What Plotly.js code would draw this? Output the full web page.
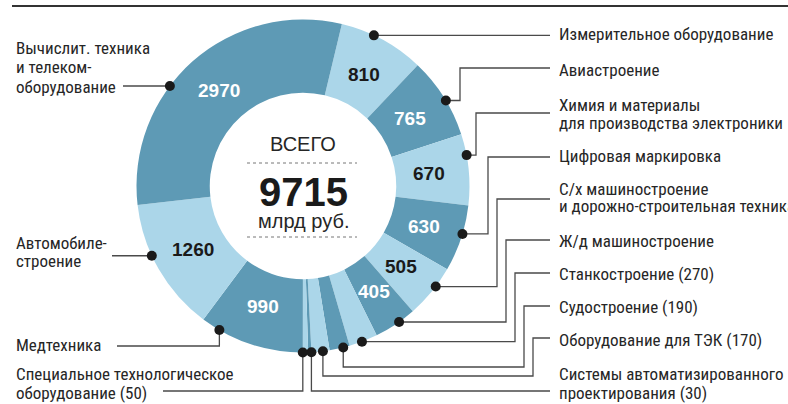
<!DOCTYPE html>
<html><head><meta charset="utf-8">
<script src="https://cdn.plot.ly/plotly-3.0.1.min.js"></script>
<style>html,body{margin:0;padding:0;background:#fff}#chart{width:788px;height:404px}</style>
</head><body><div id="chart"></div>
<script>
// ---- data ----
const categories = ['Измерительное оборудование','Авиастроение','Химия и материалы для производства электроники','Цифровая маркировка','С/х машиностроение и дорожно-строительная техника','Ж/д машиностроение','Станкостроение','Судостроение','Оборудование для ТЭК','Системы автоматизированного проектирования','Специальное технологическое оборудование','Медтехника','Автомобилестроение','Вычислит. техника и телекомоборудование'];
const values = [810, 765, 670, 630, 505, 405, 270, 190, 170, 30, 50, 990, 1260, 2970];
const calloutLabels = ['Измерительное оборудование','Авиастроение','Химия и материалы<br>для производства электроники','Цифровая маркировка','С/х машиностроение<br>и дорожно-строительная техника','Ж/д машиностроение','Станкостроение (270)','Судостроение (190)','Оборудование для ТЭК (170)','Системы автоматизированного<br>проектирования (30)','Специальное технологическое<br>оборудование (50)','Медтехника','Автомобиле-<br>строение','Вычислит. техника<br>и телеком-<br>оборудование'];
const totalLabel = 'ВСЕГО';
const totalUnit = 'млрд руб.';

// ---- layout constants ----
const W = 788, H = 404, CX = 303, CY = 186, R = 166.5, HOLE = 0.56, ROT = 13.5;
const R_TEXT = 127;
const DARK = '#5e9ab5', LIGHT = '#abd6e9';
const TXT = '#262626';
const LBLFONT = '"Liberation Sans Narrow", "Roboto Condensed", "DejaVu Sans Condensed", sans-serif';
const NUMFONT = '"Liberation Sans", Arial, sans-serif';
const MINSHOWN = 400;
// label x and line centre y's (px) per slice
const labelX = [557,557,557,557,557,557,557,557,557,557,14,14,14,14];
const labelY = [[34],[70],[105,123],[156],[189,206],[241],[274],[307],[340],[374,393],[374,393],[345],[243,261],[48,67,87]];
// where on the slice arc the dot sits (fraction of the slice)
const anchorFrac = [0.39,0.55,0.30,0.43,0.38,0.40,0.55,0.32,0.37,0.0,1.0,0.82,0.61,0.395];
// leader routes (px)
const routes = [
  [['h',550]],
  [['h',460],['v',68],['h',550]],
  [['h',476],['v',113],['h',550]],
  [['h',488],['v',157],['h',550]],
  [['h',497],['v',199],['h',550]],
  [['h',506],['v',240],['h',550]],
  [['h',515],['v',273],['h',550]],
  [['v',367],['h',524],['v',306],['h',550]],
  [['v',376],['h',533],['v',338],['h',550]],
  [['v',391],['h',550]],
  [['v',391],['h',163]],
  [['v',346],['h',117]],
  [['h',112]],
  [['h',123]]
];

const px = x => x / W, py = y => 1 - y / H;
const total = values.reduce((a, b) => a + b, 0);
const colors = values.map((v, i) => i % 2 === 0 ? LIGHT : DARK);
const txtColors = values.map((v, i) => i % 2 === 0 ? '#1a1a1a' : '#ffffff');

const trace = {
  type: 'pie', labels: categories, values: values, sort: false, direction: 'clockwise',
  rotation: ROT, hole: HOLE, textinfo: 'none',
  marker: {colors: colors, line: {width: 0}},
  domain: {x: [px(CX - R), px(CX + R)], y: [py(CY + R), py(CY - R)]},
  hoverinfo: 'label+value', showlegend: false
};

const shapes = [
  {type: 'line', xref: 'paper', yref: 'paper', x0: px(12), x1: px(788), y0: py(6), y1: py(6), line: {color: '#333', width: 2}},
  {type: 'line', xref: 'paper', yref: 'paper', x0: px(247), x1: px(357), y0: py(163), y1: py(163), line: {color: '#777', width: 1, dash: 'dot'}},
  {type: 'line', xref: 'paper', yref: 'paper', x0: px(247), x1: px(357), y0: py(237), y1: py(237), line: {color: '#777', width: 1, dash: 'dot'}}
];
const annotations = [];
let cum = 0;
values.forEach((v, i) => {
  const a = (ROT + (cum + anchorFrac[i] * v) / total * 360) * Math.PI / 180;
  const am = (ROT + (cum + v / 2) / total * 360) * Math.PI / 180;
  cum += v;
  // value inside slice
  if (v >= MINSHOWN) {
    annotations.push({xref: 'paper', yref: 'paper', x: px(CX + R_TEXT * Math.sin(am)), y: py(CY - R_TEXT * Math.cos(am)), xanchor: 'center', yanchor: 'middle', showarrow: false, text: String(v), font: {family: NUMFONT, size: 19, weight: 'bold', color: txtColors[i]}});
  }
  // leader
  const dx = CX + R * Math.sin(a), dy = CY - R * Math.cos(a);
  let cx = dx, cy = dy, path = `M ${px(cx)} ${py(cy)}`;
  routes[i].forEach(([d, t]) => {
    if (d === 'h') cx = t; else cy = t;
    path += ` L ${px(cx)} ${py(cy)}`;
  });
  shapes.push({type: 'path', xref: 'paper', yref: 'paper', path: path, line: {color: '#4a4a4a', width: 1.3}, layer: 'above'});
  const dr = 5;
  shapes.push({type: 'circle', xref: 'paper', yref: 'paper', x0: px(dx - dr), x1: px(dx + dr), y0: py(dy + dr), y1: py(dy - dr), fillcolor: '#1a1a1a', line: {width: 0}, layer: 'above'});
  // callout label, one annotation per line
  calloutLabels[i].split('<br>').forEach((line, k) => {
    annotations.push({xref: 'paper', yref: 'paper', x: px(labelX[i]), y: py(labelY[i][k]), xanchor: 'left', yanchor: 'middle', align: 'left', showarrow: false, text: line, font: {family: LBLFONT, size: 17, color: TXT}});
  });
});
annotations.push({xref: 'paper', yref: 'paper', x: px(CX), y: py(144), xanchor: 'center', yanchor: 'middle', showarrow: false, text: totalLabel, font: {family: NUMFONT, size: 20, color: TXT}});
annotations.push({xref: 'paper', yref: 'paper', x: px(CX), y: py(192), xanchor: 'center', yanchor: 'middle', showarrow: false, text: String(total), font: {family: NUMFONT, size: 40, weight: 'bold', color: '#1a1a1a'}});
annotations.push({xref: 'paper', yref: 'paper', x: px(CX), y: py(221), xanchor: 'center', yanchor: 'middle', showarrow: false, text: totalUnit, font: {family: NUMFONT, size: 20, color: TXT}});

const layout = {width: W, height: H, margin: {l: 0, r: 0, t: 0, b: 0}, paper_bgcolor: '#fff', plot_bgcolor: '#fff', showlegend: false, shapes: shapes, annotations: annotations};
Plotly.newPlot('chart', [trace], layout, {displayModeBar: false, staticPlot: true});
</script></body></html>
